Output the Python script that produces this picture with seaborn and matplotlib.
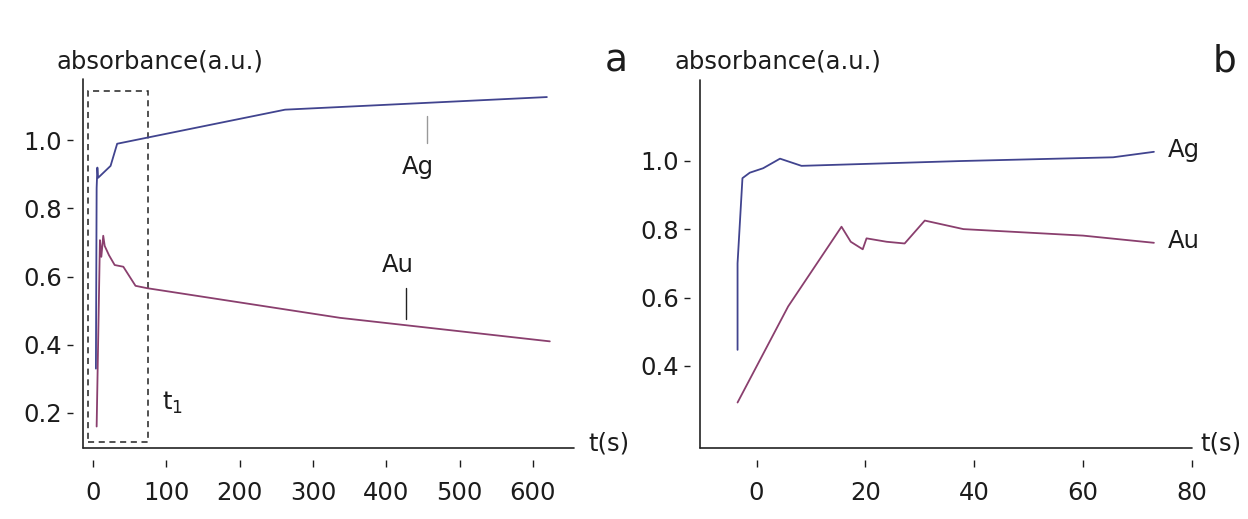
import matplotlib
matplotlib.use("Agg")
import matplotlib.pyplot as plt
import seaborn as sns
import pandas as pd
from matplotlib.patches import Rectangle

# ---------------- data ----------------
# panel a
t_ag_a = [4, 5, 6, 7, 24, 33, 262, 619]
ag_a = [0.33, 0.86, 0.92, 0.89, 0.925, 0.99, 1.09, 1.127]
t_au_a = [5, 9.5, 11.4, 14, 16, 21.8, 29.6, 41.4, 58, 74, 337, 623]
au_a = [0.16, 0.707, 0.658, 0.72, 0.69, 0.663, 0.634, 0.629, 0.573, 0.566, 0.479, 0.41]
# panel b
t_ag_b = [-3.5, -3.5, -2.6, -1.25, 1.2, 4.3, 8.25, 37.4, 65.5, 73]
ag_b = [0.447, 0.70, 0.949, 0.965, 0.978, 1.006, 0.985, 0.999, 1.01, 1.026]
t_au_b = [-3.5, 5.8, 15.6, 17.3, 19.5, 20.2, 23.9, 27.2, 30.9, 38, 60, 73]
au_b = [0.293, 0.574, 0.807, 0.763, 0.741, 0.773, 0.763, 0.758, 0.825, 0.80, 0.781, 0.76]

yticks_a = [0.2, 0.4, 0.6, 0.8, 1.0]
xticks_a = [0, 100, 200, 300, 400, 500, 600]
yticks_b = [0.4, 0.6, 0.8, 1.0]
xticks_b = [0, 20, 40, 60, 80]
box_t1 = (-7, 75, 0.115, 1.146)  # t range and y range of dashed box

C_AG = "#41448f"
C_AU = "#8a3f6e"
TXT = "#1c1c1c"

sns.set_theme(style="white")
plt.rcParams["font.family"] = ["DejaVu Sans"]
FS = 17.5

fig = plt.figure(figsize=(12.48, 5.19), dpi=100)
W, H = 1248, 519


def axes_px(l, r, t, b):
    return fig.add_axes([l / W, 1 - b / H, (r - l) / W, (b - t) / H])


ax_a = axes_px(83, 574, 79, 448)
ax_b = axes_px(700, 1192, 80, 448)

df_a_ag = pd.DataFrame({"t": t_ag_a, "A": ag_a})
df_a_au = pd.DataFrame({"t": t_au_a, "A": au_a})
df_b_ag = pd.DataFrame({"t": t_ag_b, "A": ag_b})
df_b_au = pd.DataFrame({"t": t_au_b, "A": au_b})

for ax, dag, dau in [(ax_a, df_a_ag, df_a_au), (ax_b, df_b_ag, df_b_au)]:
    sns.lineplot(data=dag, x="t", y="A", ax=ax, color=C_AG, lw=1.3,
                 estimator=None, sort=False)
    sns.lineplot(data=dau, x="t", y="A", ax=ax, color=C_AU, lw=1.3,
                 estimator=None, sort=False)

ax_a.set_xlim(-13.6, 656)
ax_a.set_ylim(0.097, 1.18)
ax_b.set_xlim(-10.4, 80)
ax_b.set_ylim(0.16, 1.236)

ax_a.set_xticks(xticks_a)
ax_a.set_yticks(yticks_a)
ax_a.set_yticklabels([f"{v:.1f}" for v in yticks_a])
ax_b.set_xticks(xticks_b)
ax_b.set_yticks(yticks_b)
ax_b.set_yticklabels([f"{v:.1f}" for v in yticks_b])

for ax in (ax_a, ax_b):
    ax.set_xlabel("")
    ax.set_ylabel("")
    for s in ("top", "right"):
        ax.spines[s].set_visible(False)
    # detached tick marks: offset spines hidden, axis lines drawn at frame
    ax.spines["left"].set_position(("outward", 7.2))
    ax.spines["bottom"].set_position(("outward", 8.6))
    ax.spines["left"].set_visible(False)
    ax.spines["bottom"].set_visible(False)
    ax.plot([0, 0], [0, 1], transform=ax.transAxes, color="#222222", lw=1.2,
            clip_on=False)
    ax.plot([0, 1], [0, 0], transform=ax.transAxes, color="#222222", lw=1.2,
            clip_on=False)
    ax.tick_params(axis="both", which="both", direction="out", labelsize=FS,
                   colors=TXT, width=1.0)
    ax.tick_params(axis="y", left=True, length=4.3, pad=3.6)
    ax.tick_params(axis="x", bottom=True, length=5, pad=10)
    ax.grid(False)

# dashed box t1
x0, x1, y0, y1 = box_t1
ax_a.add_patch(Rectangle((x0, y0), x1 - x0, y1 - y0, fill=False, ls=(0, (4, 3)),
                         lw=1.1, edgecolor="#222222", clip_on=False))
ax_a.text(94, 0.23, "t$_{1}$", fontsize=FS, color=TXT, va="center",
          ha="left")

# annotations panel a
ax_a.plot([455, 455], [1.07, 0.993], color="#999999", lw=1.0)
ax_a.text(443, 0.923, "Ag", fontsize=FS, ha="center", va="center", color=TXT)
ax_a.plot([427, 427], [0.566, 0.476], color="#222222", lw=1.0)
ax_a.text(416, 0.635, "Au", fontsize=FS, ha="center", va="center", color=TXT)

# annotations panel b
ax_b.text(75.5, 1.03, "Ag", fontsize=FS, ha="left", va="center", color=TXT)
ax_b.text(75.5, 0.765, "Au", fontsize=FS, ha="left", va="center", color=TXT)

# titles / labels in figure coordinates
fig.text(57 / W, 1 - 62 / H, "absorbance(a.u.)", fontsize=FS, va="center",
         ha="left", color=TXT)
fig.text(675 / W, 1 - 62 / H, "absorbance(a.u.)", fontsize=FS, va="center",
         ha="left", color=TXT)
fig.text(616 / W, 1 - 62 / H, "a", fontsize=27, va="center", ha="center",
         color=TXT)
fig.text(1224 / W, 1 - 62 / H, "b", fontsize=27, va="center", ha="center",
         color=TXT)
fig.text(588 / W, 1 - 443 / H, "t(s)", fontsize=FS, va="center", ha="left",
         color=TXT)
fig.text(1200 / W, 1 - 443 / H, "t(s)", fontsize=FS, va="center", ha="left",
         color=TXT)

fig.savefig("out.png", dpi=100, facecolor="white")
